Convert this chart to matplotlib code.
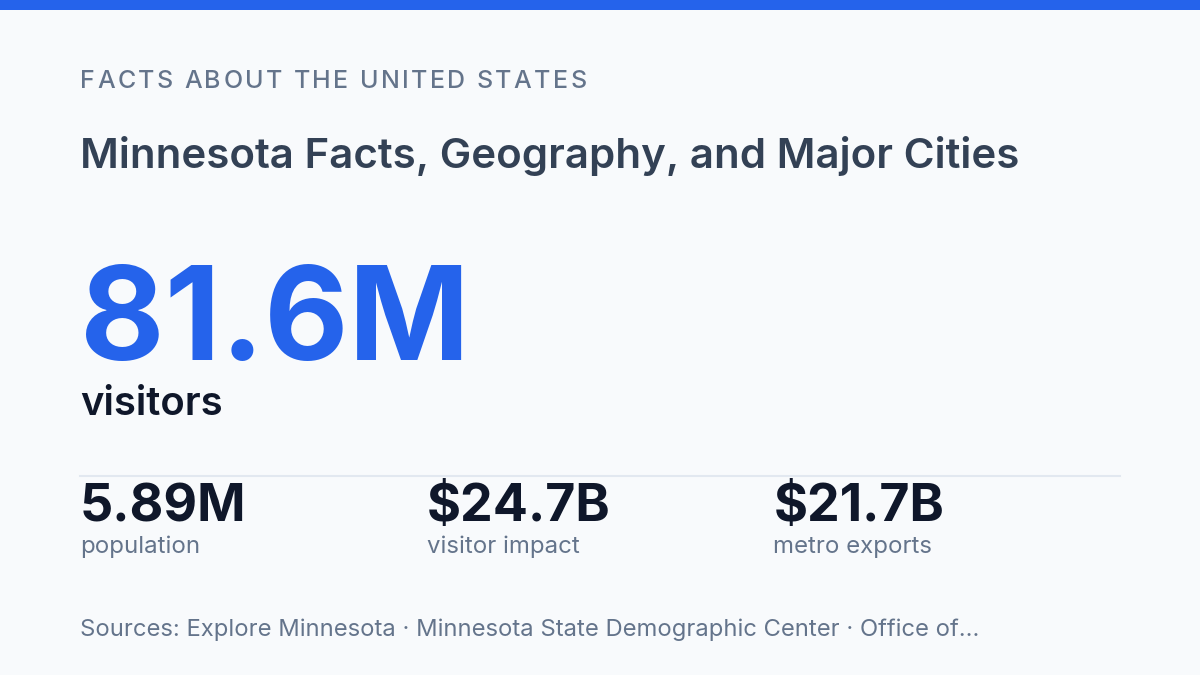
import matplotlib
matplotlib.use('Agg')
import matplotlib.pyplot as plt
from matplotlib.patches import Rectangle

W, H = 1200, 675

kicker = 'FACTS ABOUT THE UNITED STATES'
title = 'Minnesota Facts, Geography, and Major Cities'
hero_value = '81.6M'
hero_label = 'visitors'
stat_values = ['5.89M', '$24.7B', '$21.7B']
stat_labels = ['population', 'visitor impact', 'metro exports']
sources = 'Sources: Explore Minnesota \u00b7 Minnesota State Demographic Center \u00b7 Office of...'

BLUE = '#2563EB'
INK = '#0F172A'
SLATE = '#64748B'

plt.rcParams['font.family'] = ['Inter', 'DejaVu Sans']


def px(v):
    # pixel size -> points at dpi 100
    return v * 0.72


def tracked(ax, x, y, s, track, **kw):
    # draw text with extra letter spacing (track in px)
    r = fig.canvas.get_renderer()
    probe = ax.text(0, 0, '|', **kw)
    w0 = probe.get_window_extent(r).width
    probe.remove()
    for i, ch in enumerate(s):
        if ch == ' ':
            continue
        t = ax.text(0, 0, s[:i] + '|', **kw)
        off = t.get_window_extent(r).width - w0
        t.remove()
        ax.text(x + off + i * track, y, ch, va='baseline', ha='left', **kw)


fig = plt.figure(figsize=(12, 6.75), dpi=100)
fig.patch.set_facecolor('#F8FAFC')
ax = fig.add_axes([0, 0, 1, 1])
ax.set_xlim(0, W)
ax.set_ylim(H, 0)
ax.axis('off')

# top accent bar
ax.add_patch(Rectangle((0, 0), W, 10, color=BLUE, lw=0))

tracked(ax, 80, 88, kicker, 2.4, fontsize=px(25), fontweight='medium', color=SLATE)

ax.text(80, 168, title, fontsize=px(42), fontweight='semibold', color='#334155',
        va='baseline', ha='left')

ax.text(80, 360, hero_value, fontsize=px(130), fontweight='bold', color=BLUE,
        va='baseline', ha='left')
ax.text(80, 415, hero_label, fontsize=px(40), fontweight='semibold', color=INK,
        va='baseline', ha='left')

ax.plot([80, 1120], [476, 476], color='#E2E8F0', lw=1.5)

col_w = (1120 - 80) / 3
for i, (v, lab) in enumerate(zip(stat_values, stat_labels)):
    x0 = 80 + i * col_w
    ax.text(x0, 521, v, fontsize=px(52), fontweight='bold', color=INK,
            va='baseline', ha='left')
    ax.text(x0, 553, lab, fontsize=px(24), color=SLATE, va='baseline', ha='left')

ax.text(80, 636, sources, fontsize=px(23.8), color=SLATE, va='baseline', ha='left')

fig.savefig('out.png', dpi=100, facecolor=fig.get_facecolor())
